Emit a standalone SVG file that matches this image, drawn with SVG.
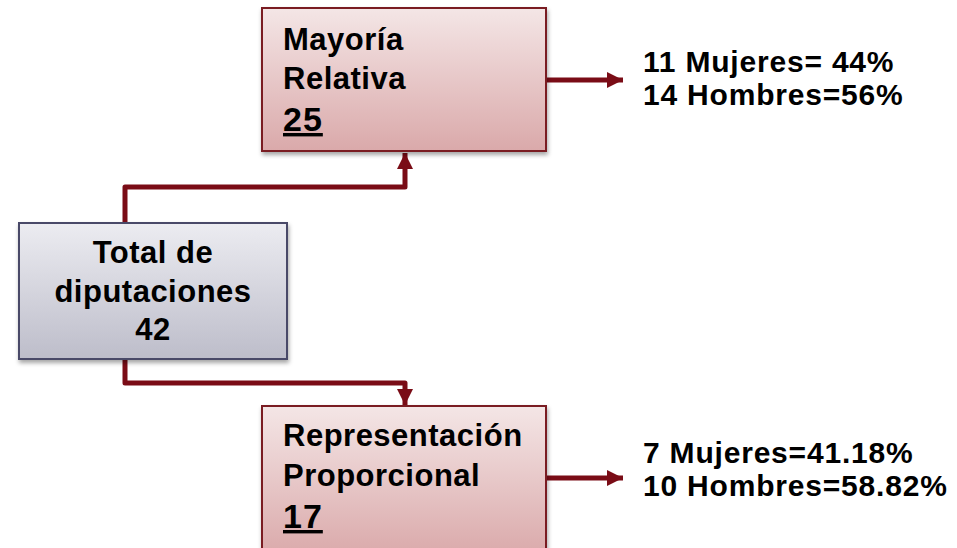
<svg xmlns="http://www.w3.org/2000/svg" width="957" height="548" viewBox="0 0 957 548">
<style>
.t{font-family:"Liberation Sans",Arial,sans-serif;font-weight:bold;font-size:31px;fill:#000;letter-spacing:0.5px}
.n{font-size:34px;letter-spacing:1px;text-decoration:underline}
.r{font-family:"Liberation Sans",Arial,sans-serif;font-weight:bold;font-size:30px;fill:#000;letter-spacing:0.8px}
.c{fill:none;stroke:#7a0c16;stroke-width:5;stroke-linejoin:round}
</style>
<defs>
<linearGradient id="gr" x1="0" y1="0" x2="0" y2="1"><stop offset="0" stop-color="#f4e6e6"/><stop offset="1" stop-color="#daa9aa"/></linearGradient>
<linearGradient id="gg" x1="0" y1="0" x2="0" y2="1"><stop offset="0" stop-color="#ececf1"/><stop offset="1" stop-color="#bdbdca"/></linearGradient>
<filter id="sh" x="-10%" y="-10%" width="130%" height="130%"><feDropShadow dx="1" dy="3" stdDeviation="2" flood-color="#000" flood-opacity="0.35"/></filter>
<marker id="ah" markerUnits="userSpaceOnUse" markerWidth="18" markerHeight="18" refX="16" refY="8" orient="auto"><path d="M0,0 L16,8 L0,16 Z" fill="#7a0c16"/></marker>
</defs>
<g id="connectors">
<path class="c" d="M125,223 V187 H405 V153" marker-end="url(#ah)"/>
<path class="c" d="M125,359 V383 H405 V405" marker-end="url(#ah)"/>
<path class="c" d="M547,80 H623" marker-end="url(#ah)"/>
<path class="c" d="M547,478 H623" marker-end="url(#ah)"/>
</g>
<g id="total">
<rect x="19" y="223" width="268" height="136" fill="url(#gg)" stroke="#4a4868" stroke-width="2" filter="url(#sh)"/>
<text class="t" text-anchor="middle" x="153" y="263">Total de</text>
<text class="t" text-anchor="middle" x="153" y="302">diputaciones</text>
<text class="t" text-anchor="middle" x="153" y="340">42</text>
</g>
<g id="mayoria">
<rect x="262" y="8" width="284" height="143" fill="url(#gr)" stroke="#7a1a22" stroke-width="2" filter="url(#sh)"/>
<text class="t" x="283" y="50">Mayoría</text>
<text class="t" x="283" y="89">Relativa</text>
<text class="t n" x="283" y="131">25</text>
</g>
<g id="representacion">
<rect x="262" y="406" width="284" height="150" fill="url(#gr)" stroke="#7a1a22" stroke-width="2" filter="url(#sh)"/>
<text class="t" x="283" y="446">Representación</text>
<text class="t" x="283" y="486">Proporcional</text>
<text class="t n" x="283" y="528">17</text>
</g>
<g id="mr-result">
<text class="r" x="643" y="72">11 Mujeres= 44%</text>
<text class="r" x="643" y="105">14 Hombres=56%</text>
</g>
<g id="rp-result">
<text class="r" x="643" y="463">7 Mujeres=41.18%</text>
<text class="r" x="643" y="496">10 Hombres=58.82%</text>
</g>
</svg>
